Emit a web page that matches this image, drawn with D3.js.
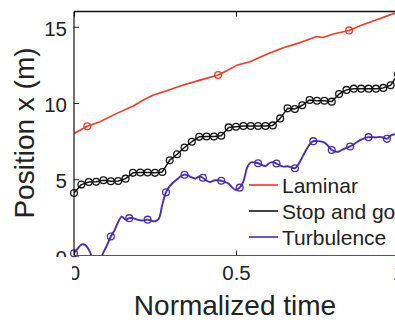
<!DOCTYPE html>
<html>
<head>
<meta charset="utf-8">
<script src="https://cdn.jsdelivr.net/npm/d3@7"></script>
<style>
  html, body { margin: 0; padding: 0; background: #fff; }
  svg { display: block; font-family: "Liberation Sans", Arial, sans-serif; }
</style>
</head>
<body>
<div id="chart"></div>
<script>
// laminar: as (time, position) pairs
const laminarT = [0, 0.041, 0.080, 0.132, 0.183, 0.214, 0.245, 0.286, 0.337, 0.389, 0.445, 0.471, 0.502,
  0.543, 0.595, 0.646, 0.698, 0.749, 0.769, 0.800, 0.849, 0.883, 0.934, 0.991, 1.0];
const laminarV = [8.0, 8.48, 8.77, 9.32, 9.8, 10.2, 10.53, 10.81, 11.18, 11.5, 11.84, 12.12, 12.47,
  12.71, 13.2, 13.63, 13.96, 14.36, 14.29, 14.52, 14.76, 15.07, 15.46, 15.9, 16.0];
const laminarMarks = [1, 10, 20];

// stop and go: one value per marker, evenly spaced in time
const stopGoV = [4.1, 4.65, 4.82, 4.84, 4.93, 4.87, 4.89, 5.04, 5.42, 5.44, 5.44, 5.42, 5.48, 6.25, 6.64,
  7.08, 7.46, 7.78, 7.8, 7.8, 7.85, 8.4, 8.44, 8.49, 8.49, 8.49, 8.49, 8.53, 8.99, 9.65,
  9.61, 9.85, 10.2, 10.15, 10.15, 10.09, 10.59, 10.86, 10.94, 10.94, 10.94, 10.94, 10.99, 11.16, 11.9];

// turbulence: evenly sampled, a marker on every 5th sample
const turbV = [0.15, 0.45, 0.72, 0.7, 0.4, -0.15, -0.5, -0.3, 0.2, 0.7,
  1.25, 1.65, 2.2, 2.55, 2.35, 2.45, 2.45, 2.37, 2.3, 2.3,
  2.35, 2.28, 2.24, 2.4, 3.35, 4.15, 4.55, 4.8, 5.0, 5.2,
  5.3, 5.25, 5.12, 5.05, 5.18, 5.1, 4.9, 4.82, 4.92, 4.93,
  4.9, 4.82, 4.72, 4.45, 4.3, 4.45, 4.85, 5.75, 6.1, 6.1,
  6.05, 5.95, 5.86, 6.05, 6.12, 6.03, 5.9, 5.83, 5.85, 5.78,
  5.72, 6.0, 6.45, 6.9, 7.28, 7.5, 7.5, 7.48, 7.4, 7.2,
  6.92, 6.82, 6.82, 6.96, 7.05, 7.15, 7.3, 7.46, 7.6, 7.7,
  7.76, 7.76, 7.74, 7.78, 7.74, 7.65, 7.85, 7.95, 7.85];
const turbMarkEvery = 5;

const xTicks = [0, 0.5, 1];
const yTicks = [0, 5, 10, 15];
const legendNames = ['Laminar', 'Stop and go', 'Turbulence'];
const colors = ['#f03a22', '#141414', '#4a2cb0'];

const W = 395, H = 320;
const margin = { top: 11.5, right: -3, bottom: 64.5, left: 74 };
const width = W - margin.left - margin.right;
const height = H - margin.top - margin.bottom;

const svg = d3.select('#chart').append('svg')
  .attr('width', W)
  .attr('height', H);

const defs = svg.append('defs');
defs.append('clipPath').attr('id', 'plot-clip')
  .append('rect').attr('x', margin.left).attr('y', margin.top).attr('width', width).attr('height', height);
defs.append('clipPath').attr('id', 'yaxis-clip')
  .append('rect').attr('x', 0).attr('y', 0).attr('width', W).attr('height', 257);
defs.append('clipPath').attr('id', 'xaxis-clip')
  .append('rect').attr('x', 72).attr('y', 0).attr('width', W).attr('height', H);

const x = d3.scaleLinear().domain([0, 1]).range([margin.left, margin.left + width]);
const y = d3.scaleLinear().domain([0, 16]).range([margin.top + height, margin.top]);

// series as point lists
const laminar = laminarT.map((t, i) => ({ t: t, v: laminarV[i] }));
const stopGo = stopGoV.map((v, i) => ({ t: i / (stopGoV.length - 1), v: v }));
const turb = turbV.map((v, i) => ({ t: i / (turbV.length - 1), v: v }));

const series = [
  { data: laminar, marks: laminarMarks.map(i => laminar[i]), color: colors[0], lw: 1.6, curve: d3.curveLinear },
  { data: stopGo, marks: stopGo, color: colors[1], lw: 1.5, curve: d3.curveLinear },
  { data: turb, marks: turb.filter((d, i) => i % turbMarkEvery === 0), color: colors[2], lw: 1.9, curve: d3.curveCatmullRom }
];

const plot = svg.append('g').attr('clip-path', 'url(#plot-clip)');

series.forEach(s => {
  const line = d3.line().x(d => x(d.t)).y(d => y(d.v)).curve(s.curve);
  plot.append('path')
    .datum(s.data)
    .attr('d', line)
    .attr('fill', 'none')
    .attr('stroke', s.color)
    .attr('stroke-width', s.lw)
    .attr('stroke-linejoin', 'round');
});

// markers are drawn whole, but only for points inside the axes
const markers = svg.append('g');
series.forEach(s => {
  markers.selectAll(null)
    .data(s.marks.filter(d => d.v >= 0 && d.v <= 16))
    .enter().append('circle')
    .attr('cx', d => x(d.t))
    .attr('cy', d => y(d.v))
    .attr('r', 3.4)
    .attr('fill', 'none')
    .attr('stroke', s.color)
    .attr('stroke-width', 1.3);
});

// axes
const yAxisWrap = svg.append('g').attr('clip-path', 'url(#yaxis-clip)');
const yAxis = yAxisWrap.append('g')
  .attr('transform', `translate(${margin.left},0)`)
  .call(d3.axisLeft(y).tickValues(yTicks).tickSize(-5).tickPadding(7).tickFormat(d3.format('d')));

const xAxisWrap = svg.append('g').attr('clip-path', 'url(#xaxis-clip)');
const xAxis = xAxisWrap.append('g')
  .attr('transform', `translate(0,${margin.top + height})`)
  .call(d3.axisBottom(x).tickValues(xTicks).tickSize(-5).tickPadding(10).tickFormat(d => d === 0.5 ? '0.5' : d3.format('d')(d)));

svg.append('g')
  .attr('transform', `translate(0,${margin.top})`)
  .call(d3.axisTop(x).tickValues(xTicks).tickSize(-5).tickFormat(''));

[yAxis, xAxis].forEach(g => {
  g.select('.domain').remove();
  g.selectAll('.tick line').attr('stroke', '#222');
  g.selectAll('.tick text')
    .attr('font-size', 20.5)
    .attr('fill', '#222')
    .attr('font-family', '"Liberation Sans", Arial, sans-serif');
});
yAxis.selectAll('.tick text').attr('dy', '0.42em');

svg.selectAll('.domain').remove();

// frame
svg.append('line')
  .attr('x1', margin.left).attr('x2', margin.left)
  .attr('y1', margin.top).attr('y2', margin.top + height)
  .attr('stroke', '#111').attr('stroke-width', 1.2);
svg.append('line')
  .attr('x1', margin.left).attr('x2', margin.left + width)
  .attr('y1', margin.top).attr('y2', margin.top)
  .attr('stroke', '#111').attr('stroke-width', 1.5);
svg.append('line')
  .attr('x1', margin.left).attr('x2', margin.left + width)
  .attr('y1', margin.top + height).attr('y2', margin.top + height)
  .attr('stroke', '#555').attr('stroke-width', 1.2);

// legend
const legend = svg.append('g').attr('transform', 'translate(249,185)');
legendNames.forEach((name, i) => {
  const row = legend.append('g').attr('transform', `translate(0,${i * 26})`);
  row.append('line')
    .attr('x1', 0).attr('x2', 29)
    .attr('stroke', colors[i]).attr('stroke-width', 1.6);
  row.append('text')
    .attr('x', 33).attr('y', 8)
    .attr('font-size', 21)
    .attr('fill', '#222')
    .text(name);
});

// axis titles
svg.append('text')
  .attr('x', margin.left + width / 2 - 1)
  .attr('y', 315)
  .attr('text-anchor', 'middle')
  .attr('font-size', 28)
  .attr('fill', '#222')
  .text('Normalized time');

svg.append('text')
  .attr('transform', 'translate(34,133) rotate(-90)')
  .attr('text-anchor', 'middle')
  .attr('font-size', 28)
  .attr('fill', '#222')
  .text('Position x (m)');
</script>
</body>
</html>
